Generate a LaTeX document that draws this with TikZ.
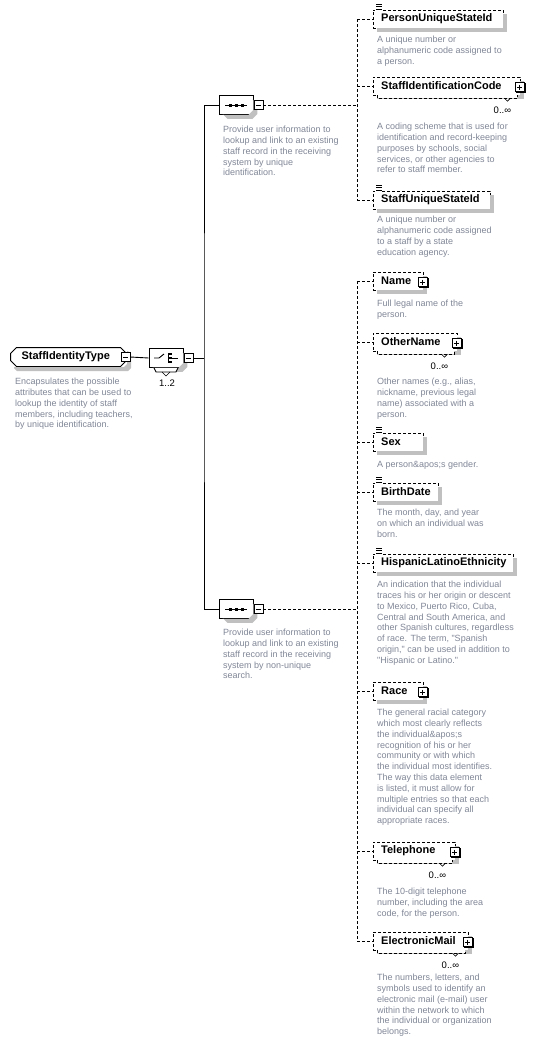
\documentclass[tikz,border=0pt]{standalone}
\usepackage{fontspec}
\setmainfont{Liberation Sans}
\usepackage{tikz}
\usetikzlibrary{shapes.misc}

\definecolor{anngray}{RGB}{128,134,150}
\definecolor{shadowgray}{RGB}{192,192,192}

\newcommand{\elemfont}{\fontsize{11}{13}\selectfont\bfseries}
\newcommand{\annfont}{\fontsize{9}{10.8}\selectfont}
\newcommand{\multfont}{\fontsize{9.5}{11}\selectfont}
\newcommand{\octshadow}[2]{%
  \coordinate (#1-nw) at (#1.west |- #1.north);
  \coordinate (#1-ne) at (#1.east |- #1.north);
  \coordinate (#1-se) at (#1.east |- #1.south);
  \coordinate (#1-sw) at (#1.west |- #1.south);
  \begin{scope}
    \clip ([xshift=4pt+#2,yshift=-4pt]#1-nw) -- ([xshift=4pt-#2,yshift=-4pt]#1-ne)
      -- ([xshift=4pt,yshift=-4pt-#2]#1-ne) -- ([xshift=4pt,yshift=-4pt+#2]#1-se)
      -- ([xshift=4pt-#2,yshift=-4pt]#1-se) -- ([xshift=4pt+#2,yshift=-4pt]#1-sw)
      -- ([xshift=4pt,yshift=-4pt+#2]#1-sw) -- ([xshift=4pt,yshift=-4pt-#2]#1-nw) -- cycle;
    \fill[shadowgray, even odd rule] ([xshift=-10pt,yshift=10pt]#1-nw) rectangle ([xshift=10pt,yshift=-10pt]#1-se)
      ([xshift=#2]#1-nw) -- ([xshift=-#2]#1-ne) -- ([yshift=-#2]#1-ne) -- ([yshift=#2]#1-se)
      -- ([xshift=-#2]#1-se) -- ([xshift=#2]#1-sw) -- ([yshift=#2]#1-sw) -- ([yshift=-#2]#1-nw) -- cycle;
  \end{scope}}

\tikzset{
  elem/.style={draw, dash pattern=on 3pt off 2pt, fill=white, anchor=west, font=\elemfont,
    minimum height=18pt, inner xsep=8pt, inner ysep=0pt, text width=#1, align=left},
  typebox/.style={chamfered rectangle, chamfered rectangle xsep=3pt, chamfered rectangle ysep=3pt,
    draw, line width=1pt, fill=white, anchor=west, font=\elemfont, minimum height=19pt,
    inner xsep=8pt, inner ysep=0pt, text width=#1, align=left},
  compositor/.style={chamfered rectangle, chamfered rectangle xsep=5pt, chamfered rectangle ysep=5pt,
    draw, line width=0.9pt, fill=white, minimum width=34pt, minimum height=19pt, inner sep=0pt},
  pmbox/.style={draw, solid, line width=0.8pt, fill=white, minimum size=9pt, inner sep=0pt},
  minusbox/.style={pmbox, path picture={
    \draw[line width=0.8pt] ([xshift=2pt]path picture bounding box.west) -- ([xshift=-2pt]path picture bounding box.east);}},
  plusbox/.style={pmbox, path picture={
    \draw[line width=0.8pt] ([xshift=2pt]path picture bounding box.west) -- ([xshift=-2pt]path picture bounding box.east)
      ([yshift=-2pt]path picture bounding box.north) -- ([yshift=2pt]path picture bounding box.south);}},
  ann/.style={anchor=north west, inner sep=0pt, align=left, font=\annfont, text=anngray},
  mult/.style={inner sep=0pt, font=\multfont},
  link/.style={line width=0.9pt},
  optlink/.style={line width=0.9pt, dash pattern=on 3pt off 2pt},
}

\begin{document}
\begin{tikzpicture}[x=1pt, y=-1pt]
  \useasboundingbox (0,0) rectangle (535,1045);

  \node[typebox=94pt] (type) at (10,357) {StaffIdentityType};
  \octshadow{type}{3pt}
  \node[minusbox] (typeminus) at ([xshift=-1.5pt]type.east) {};
  \node[ann] (typedesc) at (15,378) {Encapsulates the possible\\attributes that can be used to\\lookup the identity of staff\\members, including teachers,\\by unique identification.};

  \node[compositor] (choice) at (166,358) {};
  \octshadow{choice}{5pt}
  \node[minusbox] (choiceminus) at ([xshift=5pt]choice.east) {};
  \draw[link, fill=white] (choice.south) ++(-12,0) -- ++(2,4) -- ++(20,0) -- ++(2,-4);
  \draw[link, line width=0.6pt] (choice.south) ++(-4,4) -- ++(4,4) -- ++(4,-4);
  \node[mult] (choicemult) at (167,383) {1..2};
  \draw[link] (choice.center) ++(-12,0) -- ++(5,0) -- ++(5,-4);
  \draw[link] (choice.center) ++(2,-5) -- ++(0,10);
  \foreach \d in {-4,0,4}
    \fill (choice.center) ++(3,\d-1.2) rectangle ++(2.5,2.5);
  \draw[link] (choice.center) ++(6,0) -- ++(6,0);

  \node[compositor] (seqA) at (236,105) {};
  \octshadow{seqA}{5pt}
  \node[minusbox] (seqAminus) at ([xshift=5pt]seqA.east) {};
  \node[ann] (seqAdesc) at (223,126) {Provide user information to\\lookup and link to an existing\\staff record in the receiving\\system by unique\\identification.};

  \node[compositor] (seqB) at (236,609) {};
  \octshadow{seqB}{5pt}
  \node[minusbox] (seqBminus) at ([xshift=5pt]seqB.east) {};
  \node[ann] (seqBdesc) at (223,629) {Provide user information to\\lookup and link to an existing\\staff record in the receiving\\system by non-unique\\search.};

  \foreach \s in {seqA,seqB} {
    \draw[link] (\s.center) ++(-11,0) -- ++(22,0);
    \foreach \d in {-6,0,6}
      \fill (\s.center) ++(\d-1.5,-1.5) rectangle ++(3,3);
  }

  \foreach \n/\w/\y/\t in {pusi/114/19/PersonUniqueStateId, sic/131/86/StaffIdentificationCode,
      susi/101/200/StaffUniqueStateId, name/34/281/Name, oname/68/342/OtherName, sex/34/442/Sex,
      bdate/49/492/BirthDate, hisp/124/563/HispanicLatinoEthnicity, race/34/691/Race,
      phone/66/851/Telephone, email/79/941/ElectronicMail} {
    \node[elem=\w pt] (\n) at (373,\y) {\t};
    \fill[shadowgray] ([yshift=-4pt]\n.north east) rectangle ([xshift=4pt,yshift=-4pt]\n.south east);
    \fill[shadowgray] ([xshift=4pt]\n.south west) rectangle ([xshift=4pt,yshift=-4pt]\n.south east);
  }

  \foreach \n in {sic,oname,phone,email} {
    \fill[white] ([xshift=4pt]\n.south west) rectangle ([xshift=-3pt,yshift=-3pt]\n.south east);
    \draw[optlink] ([xshift=4pt]\n.south west) -- ++(0,3) -| ([xshift=-3pt]\n.south east);
    \draw[link, line width=0.6pt] ([xshift=-16pt,yshift=-3pt]\n.south east) -- ++(3,3) -- ++(3,-3);
    \node[mult] (\n-m) at ([xshift=-18pt,yshift=-15pt]\n.south east) {0..∞};
  }
  \foreach \n in {sic,name,oname,race,phone,email} {
    \node[plusbox] (\n-x) at ([xshift=-1pt,yshift=-1pt]\n.east) {};
    \draw[line width=1.2pt] ([xshift=0.8pt,yshift=-1pt]\n-x.north east) |- ([xshift=1pt,yshift=-0.8pt]\n-x.south west);
  }
  \foreach \n in {pusi,susi,sex,bdate,hisp} {
    \fill[white] ([xshift=2pt,yshift=-1pt]\n.north west) rectangle ([xshift=9pt,yshift=7pt]\n.north west);
    \foreach \k in {1,3.5,6}
      \draw[line width=0.6pt] ([xshift=3pt,yshift=\k pt]\n.north west) -- ++(6,0);
  }

  \node[ann] (pusidesc)  at (377,36)  {A unique number or\\alphanumeric code assigned to\\a person.};
  \node[ann] (sicdesc)   at (377,123) {A coding scheme that is used for\\identification and record-keeping\\purposes by schools, social\\services, or other agencies to\\refer to staff member.};
  \node[ann] (susidesc)  at (377,216) {A unique number or\\alphanumeric code assigned\\to a staff by a state\\education agency.};
  \node[ann] (namedesc)  at (377,300) {Full legal name of the\\person.};
  \node[ann] (onamedesc) at (377,378) {Other names (e.g., alias,\\nickname, previous legal\\name) associated with a\\person.};
  \node[ann] (sexdesc)   at (377,461) {A person\&apos;s gender.};
  \node[ann] (bdatedesc) at (377,509) {The month, day, and year\\on which an individual was\\born.};
  \node[ann] (hispdesc)  at (377,581) {An indication that the individual\\traces his or her origin or descent\\to Mexico, Puerto Rico, Cuba,\\Central and South America, and\\other Spanish cultures, regardless\\of race. The term, \textquotedbl Spanish\\origin,\textquotedbl{} can be used in addition to\\\textquotedbl Hispanic or Latino.\textquotedbl};
  \node[ann] (racedesc)  at (377,709) {The general racial category\\which most clearly reflects\\the individual\&apos;s\\recognition of his or her\\community or with which\\the individual most identifies.\\The way this data element\\is listed, it must allow for\\multiple entries so that each\\individual can specify all\\appropriate races.};
  \node[ann] (phonedesc) at (377,888) {The 10-digit telephone\\number, including the area\\code, for the person.};
  \node[ann] (emaildesc) at (377,974) {The numbers, letters, and\\symbols used to identify an\\electronic mail (e-mail) user\\within the network to which\\the individual or organization\\belongs.};

  \coordinate (bus) at (204,358);
  \coordinate (busA) at (357,105);
  \coordinate (busB) at (357,609);

  \draw[link] (typeminus.east) -- (choice.west);
  \draw[link] (choiceminus.east) -- (bus);
  \draw[link] (seqA.west) -| (bus) |- (seqB.west);

  \draw[optlink] (seqAminus.east) -- (busA);
  \draw[optlink] (busA |- pusi.west) -- (busA |- susi.west);
  \foreach \n in {pusi,sic,susi}
    \draw[optlink] (busA |- \n.west) -- (\n.west);

  \draw[optlink] (seqBminus.east) -- (busB);
  \draw[optlink] (busB |- name.west) -- (busB |- email.west);
  \foreach \n in {name,oname,sex,bdate,hisp,race,phone,email}
    \draw[optlink] (busB |- \n.west) -- (\n.west);
\end{tikzpicture}
\end{document}
